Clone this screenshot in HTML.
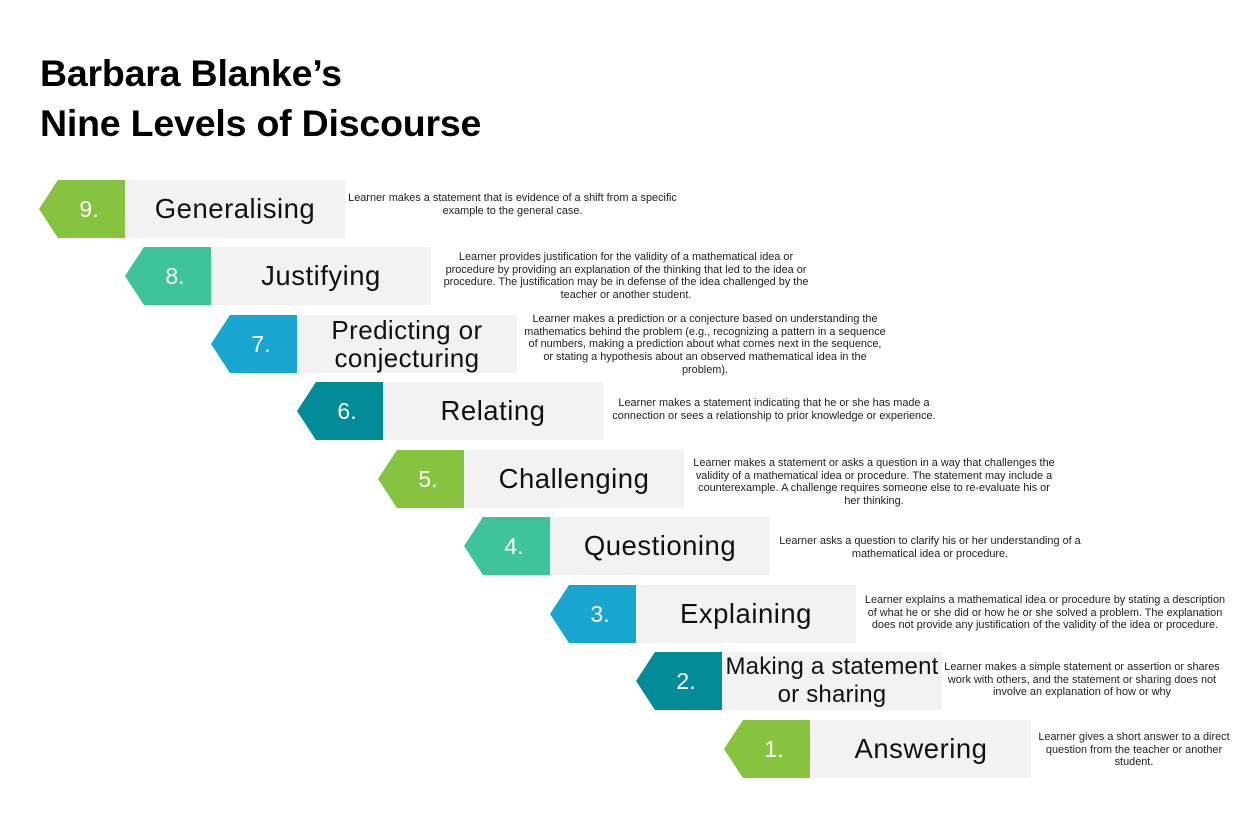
<!DOCTYPE html>
<html><head><meta charset="utf-8">
<style>
body{margin:0;width:1260px;height:813px;background:#fff;position:relative;overflow:hidden;font-family:"Liberation Sans",sans-serif;}
.t{position:absolute;left:40px;top:48px;font-weight:bold;font-size:37.5px;line-height:50px;color:#000;letter-spacing:-0.2px}
.a{position:absolute;height:58px;width:86px;clip-path:polygon(22% 0,100% 0,100% 100%,22% 100%,0 50%);color:#fff;font-size:23px;display:flex;align-items:center;justify-content:center;padding-left:14px;box-sizing:border-box}
.g{position:absolute;height:58px;width:220px;background:#f2f2f2;color:#111;font-size:27.5px;display:flex;align-items:center;justify-content:center;text-align:center;line-height:28px;letter-spacing:0.5px}
.d{position:absolute;font-size:10.9px;line-height:12.7px;text-align:center;color:#222;white-space:nowrap}
.c1{background:#86c440}.c2{background:#3ec39a}.c3{background:#18a5cf}.c4{background:#048b98}
</style></head><body>
<div class="t">Barbara Blanke’s<br>Nine Levels of Discourse</div>

<div class="a c1" style="left:39px;top:180px">9.</div><div class="g" style="left:125px;top:180px">Generalising</div>
<div class="d" style="left:345px;top:192px;width:335px">Learner makes a statement that is evidence of a shift from a specific<br>example to the general case.</div>

<div class="a c2" style="left:125px;top:247px">8.</div><div class="g" style="left:211px;top:247px">Justifying</div>
<div class="d" style="left:440px;top:251px;width:372px">Learner provides justification for the validity of a mathematical idea or<br>procedure by providing an explanation of the thinking that led to the idea or<br>procedure. The justification may be in defense of the idea challenged by the<br>teacher or another student.</div>

<div class="a c3" style="left:211px;top:315px">7.</div><div class="g" style="left:297px;top:315px;font-size:26px;letter-spacing:0.4px">Predicting or<br>conjecturing</div>
<div class="d" style="left:518px;top:313px;width:374px">Learner makes a prediction or a conjecture based on understanding the<br>mathematics behind the problem (e.g., recognizing a pattern in a sequence<br>of numbers, making a prediction about what comes next in the sequence,<br>or stating a hypothesis about an observed mathematical idea in the<br>problem).</div>

<div class="a c4" style="left:297px;top:382px">6.</div><div class="g" style="left:383px;top:382px">Relating</div>
<div class="d" style="left:605px;top:397px;width:338px">Learner makes a statement indicating that he or she has made a<br>connection or sees a relationship to prior knowledge or experience.</div>

<div class="a c1" style="left:378px;top:450px">5.</div><div class="g" style="left:464px;top:450px">Challenging</div>
<div class="d" style="left:692px;top:457px;width:364px">Learner makes a statement or asks a question in a way that challenges the<br>validity of a mathematical idea or procedure. The statement may include a<br>counterexample. A challenge requires someone else to re-evaluate his or<br>her thinking.</div>

<div class="a c2" style="left:464px;top:517px">4.</div><div class="g" style="left:550px;top:517px">Questioning</div>
<div class="d" style="left:777px;top:535px;width:306px">Learner asks a question to clarify his or her understanding of a<br>mathematical idea or procedure.</div>

<div class="a c3" style="left:550px;top:585px">3.</div><div class="g" style="left:636px;top:585px">Explaining</div>
<div class="d" style="left:860px;top:594px;width:370px">Learner explains a mathematical idea or procedure by stating a description<br>of what he or she did or how he or she solved a problem. The explanation<br>does not provide any justification of the validity of the idea or procedure.</div>

<div class="a c4" style="left:636px;top:652px">2.</div><div class="g" style="left:722px;top:652px;font-size:24px;letter-spacing:0.2px">Making a statement<br>or sharing</div>
<div class="d" style="left:942px;top:661px;width:280px">Learner makes a simple statement or assertion or shares<br>work with others, and the statement or sharing does not<br>involve an explanation of how or why</div>

<div class="a c1" style="left:724px;top:720px">1.</div><div class="g" style="left:811px;top:720px">Answering</div>
<div class="d" style="left:1035px;top:731px;width:198px">Learner gives a short answer to a direct<br>question from the teacher or another<br>student.</div>
</body></html>
